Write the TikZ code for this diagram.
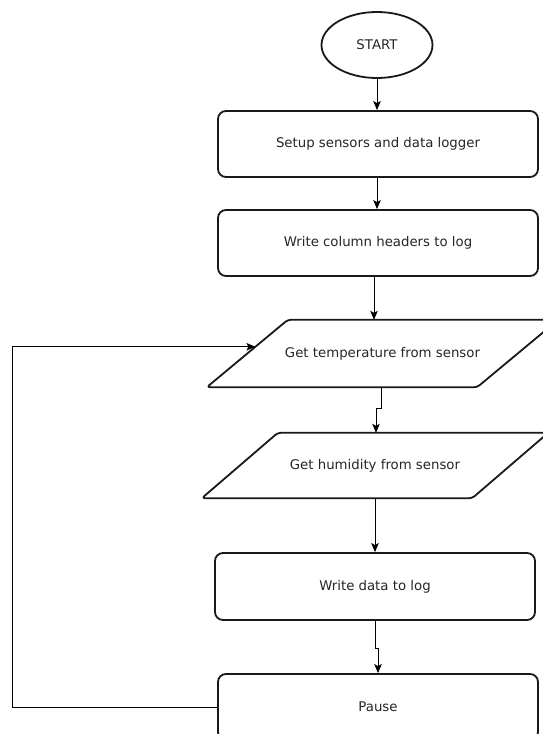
\documentclass[tikz,border=0pt]{standalone}
\usepackage{fontspec}
\setmainfont{DejaVu Sans}
\usetikzlibrary{arrows.meta,calc,shapes.geometric}

\tikzset{
  every node/.style={font=\fontsize{13.3}{16}\selectfont, text=black!85},
  shapeline/.style={draw=black!90, line width=1.8pt, fill=white},
  stepbox/.style={shapeline, rectangle, rounded corners=8pt,
                  minimum width=320pt, minimum height=66pt},
  startshape/.style={shapeline, ellipse, minimum width=111pt, minimum height=66pt},
  % text holder of an input step; its slanted outline is drawn separately
  iocore/.style={rectangle, inner sep=0pt, minimum width=270pt},
  ioline/.style={shapeline, rounded corners=3pt, line join=round},
  arr/.style={draw=black, line width=1pt,
              -{Stealth[length=9pt,width=7.5pt,inset=2pt]}}
}

\begin{document}
\begin{tikzpicture}[x=1pt,y=-1pt]
  \useasboundingbox (0,0) rectangle (543,734);

  % input steps: slanted outlines around their text holders
  \node[iocore, minimum height=67pt] (temp) at (382.5,353.5) {};
  \draw[ioline] ([xshift=-40.5pt]temp.south west) -- ([xshift=40.5pt]temp.north west)
     -- ([xshift=40.5pt]temp.north east) -- ([xshift=-40.5pt]temp.south east) -- cycle;
  \node at (temp) {Get temperature from sensor};

  \node[iocore, minimum height=65pt] (humid) at (375,465.5) {};
  \draw[ioline] ([xshift=-38pt]humid.south west) -- ([xshift=38pt]humid.north west)
     -- ([xshift=38pt]humid.north east) -- ([xshift=-38pt]humid.south east) -- cycle;
  \node at (humid) {Get humidity from sensor};

  % process steps
  \node[startshape] (start) at (377,45) {START};
  \node[stepbox] (setup) at (378,144) {Setup sensors and data logger};
  \node[stepbox] (header) at (378,243) {Write column headers to log};
  \node[stepbox, minimum height=67pt] (write) at (375,586.5) {Write data to log};
  \node[stepbox] (pause) at (378,707) {Pause};

  % entry point of the loop on the slanted side of the temperature step
  \coordinate (tempin) at ($([xshift=-40.5pt]temp.south west)!0.6!([xshift=40.5pt]temp.north west)$);

  % connectors
  \draw[arr] (start.south) -- (setup.north -| start.south);
  \draw[arr] ([xshift=-1pt]setup.south) -- ([xshift=-1pt]header.north);
  \draw[arr] ([xshift=-4pt]header.south) -- ([xshift=-4pt]header.south |- temp.north);
  \draw[arr] ([xshift=-1.5pt]temp.south) -- ++(0,21) -| ([xshift=1pt]humid.north);
  \draw[arr] (humid.south) -- (write.north);
  \draw[arr] (write.south) -- ++(0,28) -| (pause.north);
  \draw[arr] (pause.west) -- ++(-205,0) |- (tempin);
\end{tikzpicture}
\end{document}
